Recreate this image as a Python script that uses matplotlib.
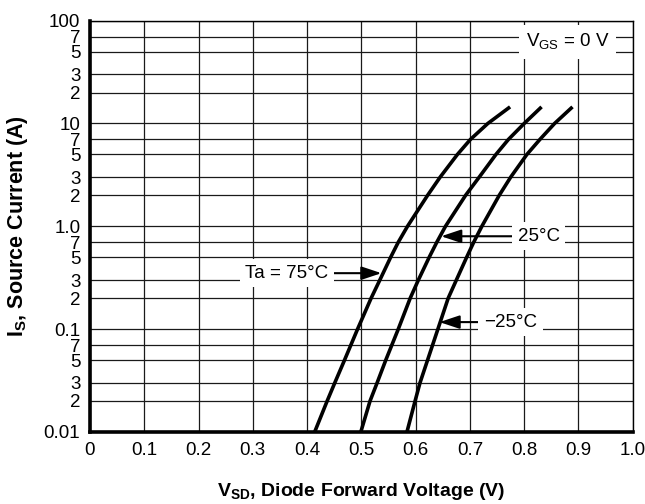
"""
Diode forward voltage vs source current, three temperatures.
"""

import matplotlib
matplotlib.use('Agg')
import matplotlib.pyplot as plt

# Source current levels (A)
current = [0.01, 0.02, 0.03, 0.05, 0.1, 0.2, 0.3, 0.5, 0.7, 1.0, 2, 3, 5, 7, 10, 14.5]

# Forward voltage (V) at each current level, per temperature
vsd_75c = [0.414, 0.437, 0.451, 0.469, 0.493, 0.518, 0.534, 0.554, 0.568, 0.585,
           0.622, 0.645, 0.677, 0.701, 0.733, 0.774]
vsd_25c = [0.499, 0.516, 0.529, 0.545, 0.568, 0.590, 0.605, 0.625, 0.639, 0.655,
           0.692, 0.717, 0.748, 0.771, 0.800, 0.832]
vsd_m25c = [0.584, 0.599, 0.608, 0.622, 0.641, 0.660, 0.675, 0.694, 0.707, 0.722,
            0.754, 0.775, 0.805, 0.829, 0.856, 0.889]

x_ticks = [0, 0.1, 0.2, 0.3, 0.4, 0.5, 0.6, 0.7, 0.8, 0.9, 1.0]
x_labels = ['0', '0.1', '0.2', '0.3', '0.4', '0.5', '0.6', '0.7', '0.8', '0.9', '1.0']
y_major = [0.01, 0.1, 1.0, 10, 100]
y_major_labels = ['0.01', '0.1', '1.0', '10', '100']
y_minor_digits = [2, 3, 5, 7]

FS = 13.5

plt.rcParams['font.family'] = ['Liberation Sans', 'DejaVu Sans']
plt.rcParams['mathtext.fontset'] = 'custom'
plt.rcParams['mathtext.rm'] = 'Liberation Sans'
plt.rcParams['mathtext.bf'] = 'Liberation Sans:bold'

fig = plt.figure(figsize=(6.45, 5.04), dpi=100)
ax = fig.add_axes([0.1395, 0.143, 0.8415, 0.816])

for vsd in (vsd_75c, vsd_25c, vsd_m25c):
    ax.plot(vsd, current, color='black', lw=2.6, solid_capstyle='butt', zorder=4)

ax.set_yscale('log')
ax.set_xlim(0, 1.0)
ax.set_ylim(0.01, 100)

# Ticks: decades labelled in full, 2/3/5/7 labelled with the digit only
minor_vals = []
minor_labels = []
for dec in y_major[:-1]:
    for d in y_minor_digits:
        minor_vals.append(dec * d)
        minor_labels.append(str(d))
ax.set_xticks(x_ticks, x_labels)
ax.set_yticks(y_major, y_major_labels)
ax.set_yticks(minor_vals, minor_labels, minor=True)
ax.tick_params(axis='both', which='both', length=0, labelsize=FS, colors='black')
ax.tick_params(axis='y', which='both', pad=7)
ax.tick_params(axis='x', pad=7)

ax.grid(True, which='both', color='#1a1a1a', lw=0.9, zorder=1)
ax.set_axisbelow(True)

for side in ('left', 'bottom'):
    ax.spines[side].set_linewidth(2.6)
for side in ('top', 'right'):
    ax.spines[side].set_linewidth(1.0)

ax.set_xlabel(r'V$_{\mathbf{SD}}$, Diode Forward Voltage (V)', fontsize=14,
              fontweight='bold', labelpad=16)
ax.set_ylabel(r'I$_{\mathbf{S}}$, Source Current (A)', fontsize=15.5,
              fontweight='bold', labelpad=10)

box = dict(boxstyle='square,pad=0.3', fc='white', ec='none')
arrow = dict(arrowstyle='-|>,head_length=0.9,head_width=0.3', color='black',
             lw=1.5, shrinkA=0, shrinkB=0)

ax.text(0.880, 62, r'V$_{\mathregular{GS}}$ = 0 V', fontsize=FS, ha='center',
        va='center', bbox=dict(boxstyle='square,pad=0.35', fc='white', ec='none'),
        zorder=3)
ax.annotate('Ta = 75°C', xy=(0.537, 0.35), xytext=(0.363, 0.35), fontsize=FS,
            ha='center', va='center', bbox=box, arrowprops=arrow, zorder=3)
ax.annotate('25°C', xy=(0.647, 0.80), xytext=(0.827, 0.80), fontsize=FS,
            ha='center', va='center', bbox=box, arrowprops=arrow, zorder=3)
ax.annotate('\u221225°C', xy=(0.644, 0.117), xytext=(0.775, 0.117), fontsize=FS,
            ha='center', va='center', bbox=box, arrowprops=arrow, zorder=3)

plt.savefig('out.png', dpi=100)
